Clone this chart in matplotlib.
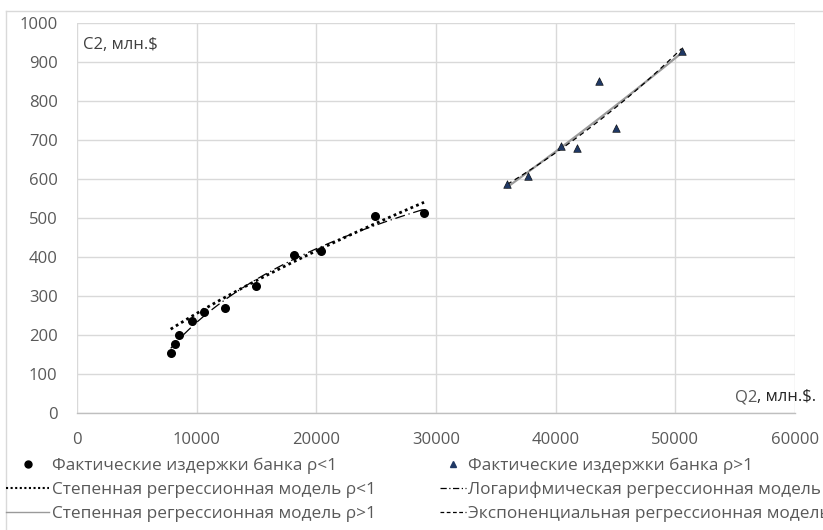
import numpy as np
import matplotlib.pyplot as plt
from matplotlib.lines import Line2D

plt.rcParams['font.family'] = ['Open Sans', 'DejaVu Sans']

# фактические издержки, rho < 1
q_low = [7830, 8170, 8530, 9610, 10580, 12330, 14970, 18110, 20390, 24890, 29000]
c_low = [155, 177, 199, 237, 258, 268, 325, 404, 416, 506, 512]

# фактические издержки, rho > 1
q_high = [35950, 37700, 40470, 41780, 43580, 45060, 50530]
c_high = [586, 607, 684, 680, 852, 730, 927]

# степенная модель rho<1, C = a * Q^b (коэффициенты)
pow_low_a = 0.390
pow_low_b = 0.704

x_ticks = [0, 10000, 20000, 30000, 40000, 50000, 60000]
y_ticks = [0, 100, 200, 300, 400, 500, 600, 700, 800, 900, 1000]

q_low_a = np.array(q_low, float)
c_low_a = np.array(c_low, float)
q_high_a = np.array(q_high, float)
c_high_a = np.array(c_high, float)

# линии трендов
xs1 = np.linspace(q_low_a.min(), q_low_a.max(), 100)
pow_low = pow_low_a * xs1 ** pow_low_b

bl, al = np.polyfit(np.log(q_low_a), c_low_a, 1)
log_low = al + bl * np.log(xs1)

b2, a2 = np.polyfit(np.log(q_high_a), np.log(c_high_a), 1)
xs2 = np.linspace(q_high_a.min(), q_high_a.max(), 100)
pow_high = np.exp(a2) * xs2 ** b2

be, ae = np.polyfit(q_high_a, np.log(c_high_a), 1)
exp_high = np.exp(ae + be * xs2)

fig = plt.figure(figsize=(8.23, 5.30), dpi=100)
ax = fig.add_axes([77 / 823, 117 / 530, 718 / 823, 390 / 530])

ax.plot(xs1, pow_low, color='black', linestyle=(0, (1, 1.2)), linewidth=2.0, zorder=3)
ax.plot(xs1, log_low, color='black', linestyle=(0, (8, 3, 1, 3)), linewidth=0.9, zorder=3)
ax.plot(xs2, pow_high, color='#9a9a9a', linestyle='-', linewidth=1.6, zorder=3)
ax.plot(xs2, exp_high, color='black', linestyle=(0, (4, 3)), linewidth=0.9, zorder=3)

ax.scatter(q_low, c_low, s=30, color='black', zorder=4)
ax.scatter(q_high, c_high, s=30, marker='^', color='#1f3864', edgecolors='black',
           linewidths=0.4, zorder=4)

ax.set_xlim(0, 60000)
ax.set_ylim(0, 1000)
ax.set_xticks(x_ticks)
ax.set_yticks(y_ticks)
ax.grid(True, color='#d9d9d9', linewidth=1.0)
ax.set_axisbelow(True)
for s in ['top', 'right', 'left']:
    ax.spines[s].set_visible(False)
ax.spines['bottom'].set_color('#bfbfbf')
ax.spines['bottom'].set_linewidth(1.0)
ax.tick_params(length=0, labelsize=12, labelcolor='#595959')
ax.tick_params(axis='x', pad=14)
ax.tick_params(axis='y', pad=14)

ax.text(6 / 718, 0.944, 'C2, млн.$', transform=ax.transAxes, fontsize=12,
        color='#404040', ha='left', va='center')
ax.text(735 / 823, 1 - 397 / 530, 'Q2', transform=fig.transFigure, fontsize=12,
        color='#595959', ha='left', va='center')
ax.text(757 / 823, 1 - 397 / 530, ', млн.$.', transform=fig.transFigure, fontsize=12,
        color='#262626', ha='left', va='center')

h_left = [
    Line2D([], [], linestyle='none', marker='o', markersize=5, color='black'),
    Line2D([], [], color='black', linestyle=(0, (1, 1.2)), linewidth=1.5),
    Line2D([], [], color='#9a9a9a', linewidth=1.0),
]
l_left = ['Фактические издержки банка ρ<1',
          'Степенная регрессионная модель ρ<1',
          'Степенная регрессионная модель ρ>1']
h_right = [
    Line2D([], [], linestyle='none', marker='^', markersize=4, color='#1f3864'),
    Line2D([], [], color='black', linestyle=(0, (5, 2, 1, 2)), linewidth=0.9),
    Line2D([], [], color='black', linestyle=(0, (3, 2)), linewidth=0.9),
]
l_right = ['Фактические издержки банка ρ>1',
           'Логарифмическая регрессионная модель',
           'Экспоненциальная регрессионная модель']

leg1 = fig.legend(h_left, l_left, loc='upper left', bbox_to_anchor=(6 / 823, 1 - 458 / 530),
                  frameon=False, fontsize=12.4, handlelength=2.5, handletextpad=0.15,
                  labelspacing=0.44, borderpad=0, borderaxespad=0)
for t in leg1.get_texts():
    t.set_color('#595959')
leg2 = fig.legend(h_right, l_right, loc='upper left', bbox_to_anchor=(440 / 823, 1 - 458 / 530),
                  frameon=False, fontsize=12.4, handlelength=1.5, handletextpad=0.15,
                  labelspacing=0.44, borderpad=0, borderaxespad=0)
for t in leg2.get_texts():
    t.set_color('#595959')

# рамка области диаграммы
fig.add_artist(Line2D([6 / 823, 1], [1 - 11 / 530] * 2, color='#d9d9d9', linewidth=1.0))
fig.add_artist(Line2D([6 / 823] * 2, [0, 1 - 11 / 530], color='#d9d9d9', linewidth=1.0))

fig.savefig('out.png', dpi=100)
